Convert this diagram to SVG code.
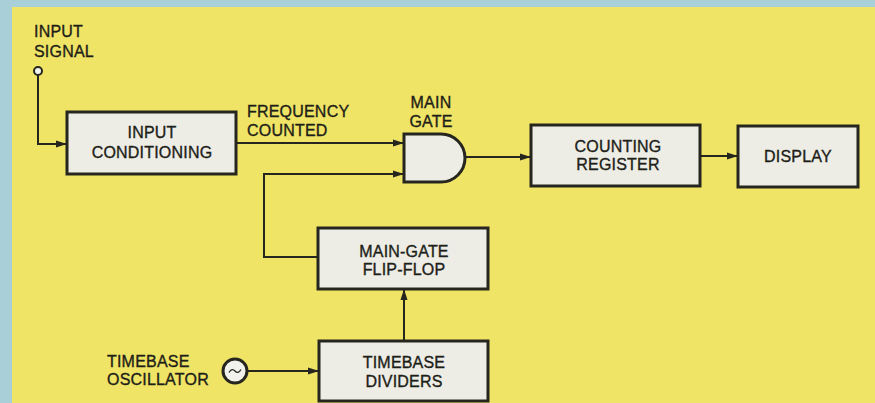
<svg xmlns="http://www.w3.org/2000/svg" width="875" height="403" viewBox="0 0 875 403">
<defs>
<style>
.box{fill:#ededE6;stroke:#26261e;stroke-width:3}
.ln{fill:none;stroke:#26261e;stroke-width:2}
.t{font-family:"Liberation Sans",Arial,sans-serif;font-size:16px;letter-spacing:0.2px;fill:#1e1e18;stroke:#1e1e18;stroke-width:0.35px}
.c{text-anchor:middle}
</style>
<marker id="ah" markerUnits="userSpaceOnUse" markerWidth="12" markerHeight="10" refX="11" refY="5" orient="auto">
<path d="M0,1.5 L11,5 L0,8.5 Z" fill="#26261e"/>
</marker>
</defs>
<rect width="875" height="403" fill="#a9d0d8"/>
<rect x="12" y="7" width="863" height="396" fill="#f0e466"/>

<g id="input-signal">
<circle cx="38" cy="71" r="4" fill="#f4f4ee" stroke="#26261e" stroke-width="2"/>
<text class="t" x="34" y="37">INPUT</text>
<text class="t" x="34" y="57">SIGNAL</text>
</g>

<g id="input-conditioning">
<rect class="box" x="67" y="112" width="169" height="62"/>
<text class="t c" x="152" y="138">INPUT</text>
<text class="t c" x="152" y="158">CONDITIONING</text>
</g>

<g id="frequency-counted">
<text class="t" x="247" y="117">FREQUENCY</text>
<text class="t" x="247" y="136">COUNTED</text>
</g>

<g id="main-gate">
<path class="box" d="M404,134 H441 A24,24 0 0 1 441,182 H404 Z"/>
<text class="t c" x="431" y="108">MAIN</text>
<text class="t c" x="431" y="127">GATE</text>
</g>

<g id="counting-register">
<rect class="box" x="531" y="125" width="169" height="61"/>
<text class="t c" x="618" y="152">COUNTING</text>
<text class="t c" x="618" y="170">REGISTER</text>
</g>

<g id="display">
<rect class="box" x="738" y="126" width="120" height="61"/>
<text class="t c" x="798" y="162">DISPLAY</text>
</g>

<g id="main-gate-flip-flop">
<rect class="box" x="318" y="228" width="170" height="61"/>
<text class="t c" x="404" y="257">MAIN-GATE</text>
<text class="t c" x="404" y="275">FLIP-FLOP</text>
</g>

<g id="timebase-dividers">
<rect class="box" x="319" y="341" width="169" height="60"/>
<text class="t c" x="404" y="368">TIMEBASE</text>
<text class="t c" x="404" y="387">DIVIDERS</text>
</g>

<g id="timebase-oscillator">
<circle cx="235" cy="371" r="12" fill="#f2f2ec" stroke="#26261e" stroke-width="3"/>
<path d="M229,372.5 q3,-5 6,-1.5 t6,-1.5" fill="none" stroke="#26261e" stroke-width="1.3"/>
<text class="t" x="107" y="367">TIMEBASE</text>
<text class="t" x="107" y="385">OSCILLATOR</text>
</g>

<g id="connectors">
<path class="ln" d="M38,75 V144 H67" marker-end="url(#ah)"/>
<path class="ln" d="M236,143 H404" marker-end="url(#ah)"/>
<path class="ln" d="M318,257 H264 V174 H404" marker-end="url(#ah)"/>
<path class="ln" d="M465,157 H531" marker-end="url(#ah)"/>
<path class="ln" d="M700,156 H738" marker-end="url(#ah)"/>
<path class="ln" d="M404,341 V289" marker-end="url(#ah)"/>
<path class="ln" d="M247,371 H319" marker-end="url(#ah)"/>
</g>
</svg>
